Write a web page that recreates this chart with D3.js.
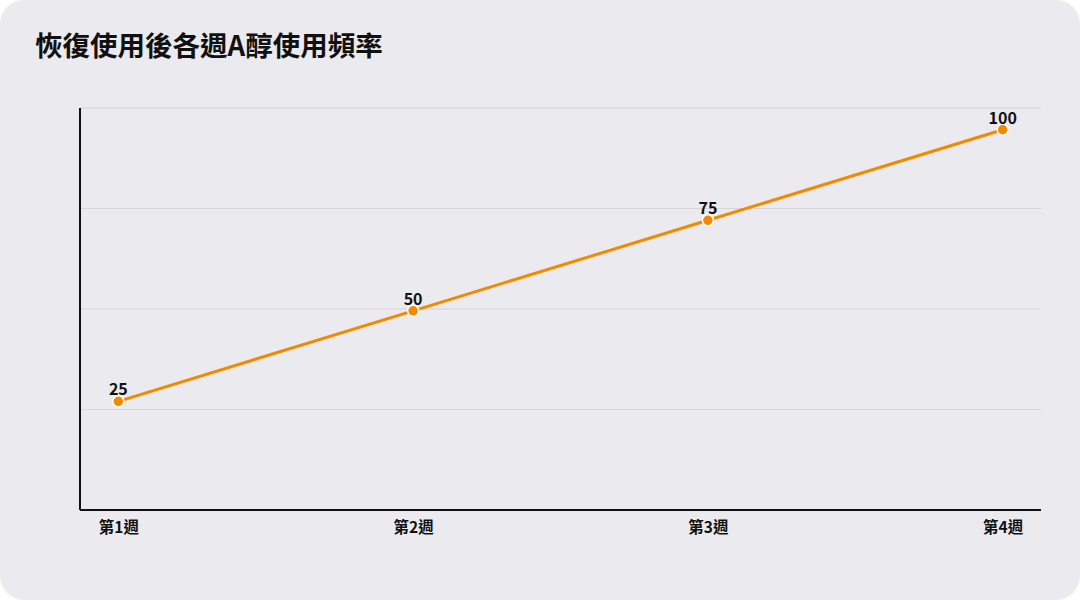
<!DOCTYPE html>
<html><head><meta charset="utf-8">
<script src="https://cdn.jsdelivr.net/npm/d3@7/dist/d3.min.js"></script>
<style>
html,body{margin:0;padding:0;background:#fff;}
svg{display:block;}
</style></head>
<body>
<svg id="chart" width="1080" height="600"></svg>
<script>
const categories = ["第1週","第2週","第3週","第4週"];
const values = [25, 50, 75, 100];
const title = "恢復使用後各週A醇使用頻率";

const W = 1080, H = 600;
const margin = {left: 80, right: 39, top: 108, bottom: 90};
const svg = d3.select("#chart");
const font = "'Noto Sans CJK TC','Noto Sans',sans-serif";

svg.append("rect").attr("x",0).attr("y",0).attr("width",W).attr("height",H)
  .attr("rx",24).attr("ry",24).attr("fill","#ebeaef");

svg.append("text").attr("x",35).attr("y",56).text(title)
  .attr("font-family",font).attr("font-weight",700).attr("font-size",27.5).attr("fill","#111");

const x0 = margin.left, x1 = W - margin.right, y0 = H - margin.bottom, y1 = margin.top;
const x = d3.scalePoint().domain(categories).range([x0, x1]).padding(0.13);
const y = d3.scaleLinear().domain([-5, 106]).range([y0, y1]);

// gridlines: 4 equal divisions
const gridVals = d3.range(1,5).map(i => y.invert(y0 - i*(y0-y1)/4));
svg.append("g").selectAll("line").data(gridVals).join("line")
  .attr("x1",x0).attr("x2",x1).attr("y1",d=>y(d)).attr("y2",d=>y(d))
  .attr("stroke","#d6d5da").attr("stroke-width",1);

// axes
const xAxis = svg.append("g").attr("transform",`translate(0,${y0})`)
  .call(d3.axisBottom(x).tickSize(0).tickPadding(12));
xAxis.select(".domain").attr("stroke","#111").attr("stroke-width",2).attr("d",`M${x0},0H${x1}`);
xAxis.selectAll("text").attr("font-family",font).attr("font-weight",700).attr("font-size",15.5).attr("fill","#111");

svg.append("line").attr("x1",x0).attr("x2",x0).attr("y1",y1).attr("y2",y0)
  .attr("stroke","#111").attr("stroke-width",2);

// line
const line = d3.line().x((d,i)=>x(categories[i])).y(d=>y(d));
svg.append("path").datum(values).attr("d",line)
  .attr("fill","none").attr("stroke","#f28a00").attr("stroke-width",3);

svg.append("g").selectAll("circle").data(values).join("circle")
  .attr("cx",(d,i)=>x(categories[i])).attr("cy",d=>y(d)).attr("r",5.5)
  .attr("fill","#f28a00").attr("stroke","#fff").attr("stroke-width",1.5);

svg.append("g").selectAll("text").data(values).join("text")
  .attr("x",(d,i)=>x(categories[i])).attr("y",d=>y(d)-6)
  .attr("text-anchor","middle").text(d=>d)
  .attr("font-family",font).attr("font-weight",700).attr("font-size",16).attr("fill","#111");
</script>
</body></html>
